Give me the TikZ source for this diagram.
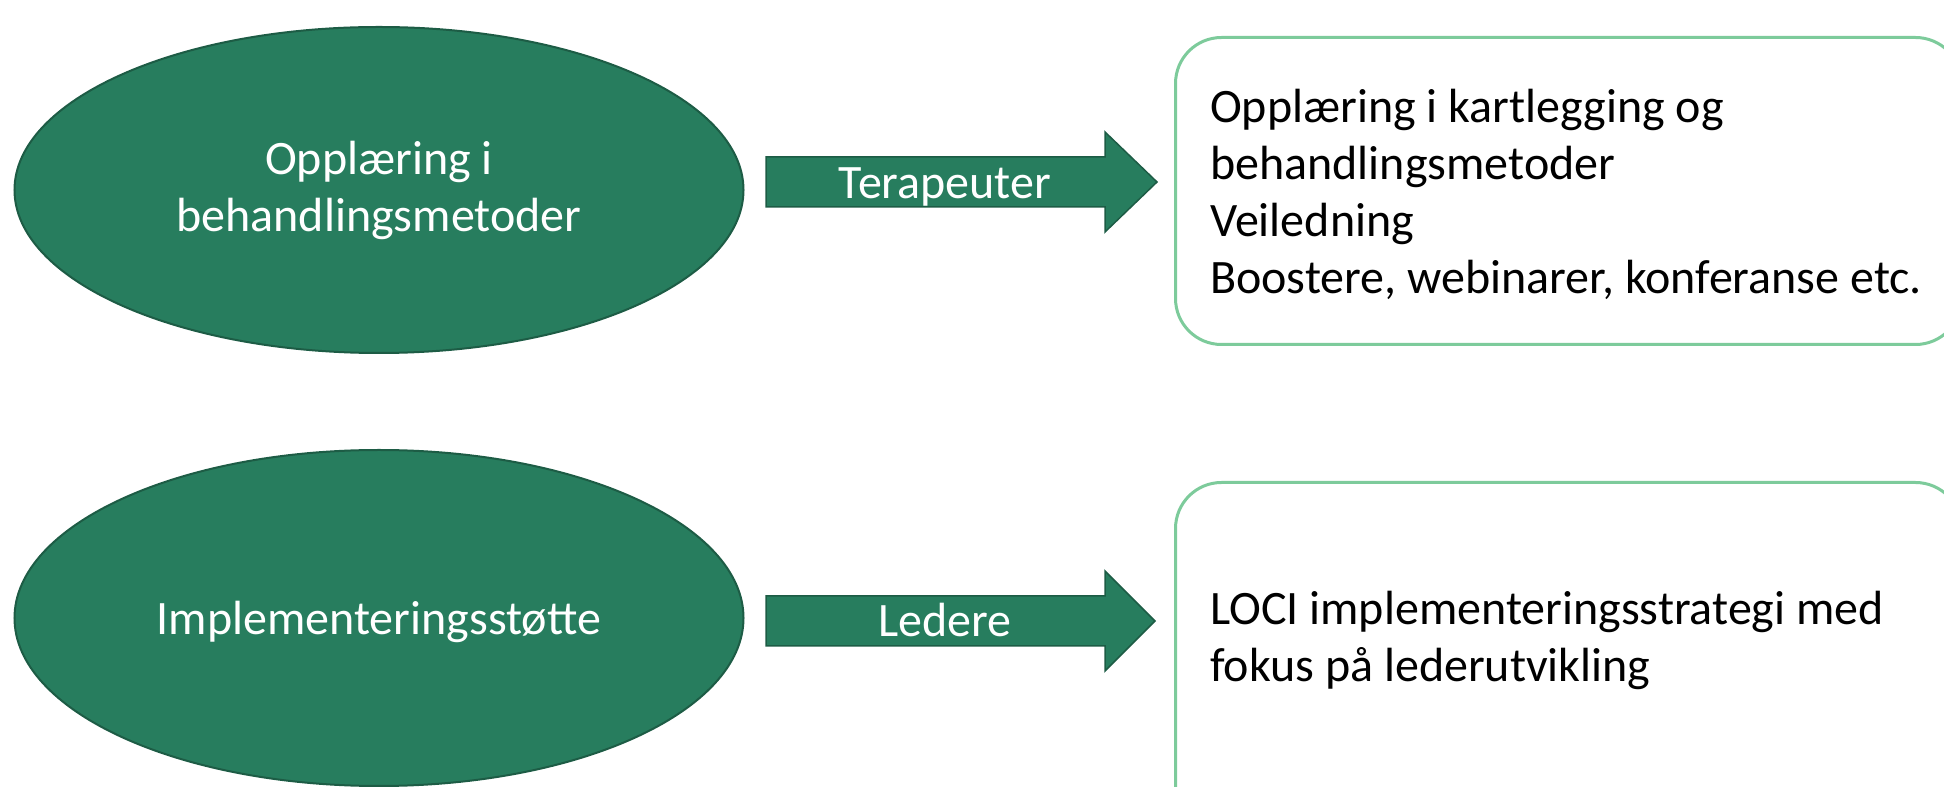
\documentclass[tikz,border=0pt]{standalone}
\usepackage{fontspec}
\setmainfont{Carlito}
\usetikzlibrary{shapes.geometric}
\definecolor{fillgreen}{HTML}{277D5E}
\definecolor{edgegreen}{HTML}{1D5C45}
\definecolor{boxgreen}{HTML}{7DCB9B}
\newcommand{\diagfont}{\fontsize{48}{57}\selectfont}
\begin{document}
\begin{tikzpicture}[x=1pt,y=1pt,
  oval/.style={ellipse, draw=edgegreen, line width=2pt, fill=fillgreen, inner sep=0pt,
    minimum width=729pt, text=white, font=\diagfont, align=center},
  infobox/.style={draw=boxgreen, line width=3pt, rounded corners=46pt, fill=white,
    anchor=north west, inner sep=0pt, minimum width=786pt},
  blockarrow/.style={draw=edgegreen, line width=1.5pt, fill=fillgreen, line join=miter},
  boxtext/.style={anchor=base west, inner sep=0pt, font=\diagfont},
  arrowtext/.style={anchor=base, inner sep=0pt, text=white, font=\diagfont}]
\clip (0,0) rectangle (1944,787);
% ellipses
\node[oval, minimum height=326pt] (e1) at (379,597) {Opplæring i\\behandlingsmetoder};
\node[oval, minimum height=336pt] (e2) at (379,169) {\raisebox{-4pt}[\height][\depth]{Implementeringsstøtte}};
% boxes
\node[infobox, minimum height=307pt] (b1) at (1174,751) {};
\node[infobox, minimum height=360pt] (b2) at (1174,306) {};
\node[boxtext] (b1t) at (1210,664) {\begin{tabular}[t]{@{}l@{}}Opplæring i kartlegging og\\behandlingsmetoder\\Veiledning\\Boostere, webinarer, konferanse etc.\end{tabular}};
\node[boxtext] (b2t) at (1210,162) {\begin{tabular}[t]{@{}l@{}}LOCI implementeringsstrategi med\\fokus på lederutvikling\end{tabular}};
% block arrows
\coordinate (a1tip) at (1157,605);
\coordinate (a2tip) at (1155,166);
\draw[blockarrow] (766,630) -- (1105,630) -- (1105,655) -- (a1tip) -- (1105,555) -- (1105,580) -- (766,580) -- cycle;
\draw[blockarrow] (766,191) -- (1105,191) -- (1105,216) -- (a2tip) -- (1105,116) -- (1105,141) -- (766,141) -- cycle;
\node[arrowtext] (t1) at (945,588) {Terapeuter};
\node[arrowtext] (t2) at (945,150) {Ledere};
\end{tikzpicture}
\end{document}
